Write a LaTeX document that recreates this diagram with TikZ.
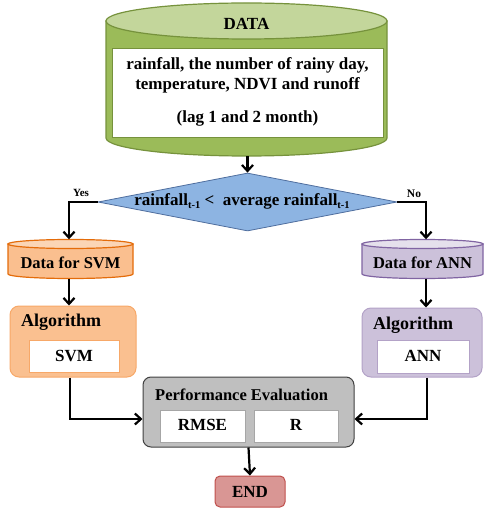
\documentclass[tikz,border=0pt]{standalone}
\usepackage{fontspec}
\setmainfont{Liberation Serif}
\usetikzlibrary{arrows.meta,shapes.geometric}

% Office-style palette
\definecolor{grnbody}{HTML}{9BBB59}
\definecolor{grntop}{HTML}{C3D69B}
\definecolor{grnline}{HTML}{76923C}
\definecolor{bluefill}{HTML}{8DB4E2}
\definecolor{blueline}{HTML}{4F6E9E}
\definecolor{orgbody}{HTML}{FABF8F}
\definecolor{orgtop}{HTML}{FBD5B5}
\definecolor{orgline}{HTML}{E46C0A}
\definecolor{orgbox}{HTML}{FAC090}
\definecolor{orgboxline}{HTML}{F7A868}
\definecolor{purbody}{HTML}{CCC1DA}
\definecolor{purtop}{HTML}{E5E0EC}
\definecolor{purline}{HTML}{8064A2}
\definecolor{purboxline}{HTML}{B3A2C7}
\definecolor{greyfill}{HTML}{BFBFBF}
\definecolor{greyline}{HTML}{404040}
\definecolor{endfill}{HTML}{D99694}
\definecolor{endline}{HTML}{C0504D}

% cylinder: left x, right x, top-centre y, bottom-centre y, y radius, body, top, line
\newcommand{\drumshape}[8]{%
  \pgfmathsetmacro\drumrx{(#2-#1)/2}%
  \filldraw[fill=#6,draw=#8,line width=1.2pt] (#1,#3) -- (#1,#4)
    arc[start angle=180,end angle=360,x radius=\drumrx pt,y radius=#5pt]
    -- (#2,#3) -- cycle;
  \filldraw[fill=#7,draw=#8,line width=1.2pt] ({(#1+#2)/2},#3)
    ellipse[x radius=\drumrx pt,y radius=#5pt];
}

\tikzset{
  lbl/.style={font=\bfseries\fontsize{17}{20}\selectfont, inner sep=0pt},
  flow/.style={line width=2.2pt, -{Straight Barb[length=6pt,width=11pt,line width=2.2pt]}},
  whitebox/.style={draw=#1, fill=white, line width=0.8pt, inner sep=0pt},
  anchorbox/.style={inner sep=0pt, minimum width=#1},
}

\begin{document}
\begin{tikzpicture}[x=1pt,y=-1pt]
\useasboundingbox (0,0) rectangle (484,510);

% ---- input data drum
\drumshape{106}{387}{21}{138}{18}{grnbody}{grntop}{grnline}
\node[anchorbox=281pt, minimum height=153pt] (data) at (246.5,79.5) {};
\node[lbl] (datat) at (246.5,24) {DATA};
\node[whitebox=grnline, minimum width=271pt, minimum height=89pt] (databox) at (247.5,92.5) {};
\node[lbl, align=center] (vars) at (247.5,75) {rainfall, the number of rainy day,\\temperature, NDVI and runoff};
\node[lbl] (lag) at (247.5,118) {(lag 1 and 2 month)};

% ---- decision
\node[diamond, draw=blueline, fill=bluefill, line width=0.8pt, aspect=5.15,
      minimum width=299pt, minimum height=58pt, inner sep=0pt] (dec) at (247.5,202) {};
\node[lbl] (dect) at (242,201) {rainfall\raisebox{-0.45ex}{\fontsize{10.5}{10}\selectfont t-1} <~ average rainfall\raisebox{-0.45ex}{\fontsize{10.5}{10}\selectfont t-1}};

% ---- SVM branch
\drumshape{8}{133}{244}{274}{4.5}{orgbody}{orgtop}{orgline}
\node[anchorbox=125pt, minimum height=39pt] (dsvm) at (70.5,259) {};
\node[lbl, font=\bfseries\fontsize{16.5}{19}\selectfont] (dsvmt) at (70.5,263) {Data for SVM};

\node[draw=orgboxline, fill=orgbox, line width=1pt, rounded corners=9pt,
      minimum width=126pt, minimum height=71pt, inner sep=0pt] (asvm) at (73,341.5) {};
\node[lbl, font=\bfseries\fontsize{18}{20}\selectfont, anchor=west] (asvmt) at (21,322) {Algorithm};
\node[whitebox=orgboxline, minimum width=90pt, minimum height=32pt] (svmbox) at (74,356) {};
\node[lbl] (svmt) at (74,356) {SVM};

% ---- ANN branch
\drumshape{362}{483}{244}{274}{4.5}{purbody}{purtop}{purline}
\node[anchorbox=121pt, minimum height=39pt] (dann) at (422.5,259) {};
\node[lbl, font=\bfseries\fontsize{16.5}{19}\selectfont] (dannt) at (422.5,263) {Data for ANN};

\node[draw=purboxline, fill=purbody, line width=1pt, rounded corners=9pt,
      minimum width=120pt, minimum height=69pt, inner sep=0pt] (aann) at (422,342.5) {};
\node[lbl, font=\bfseries\fontsize{18}{20}\selectfont, anchor=west] (aannt) at (373,325) {Algorithm};
\node[whitebox=purboxline, minimum width=92pt, minimum height=33pt] (annbox) at (423,356.5) {};
\node[lbl] (annt) at (423,356) {ANN};

% ---- evaluation
\node[draw=greyline, fill=greyfill, line width=1pt, rounded corners=8pt,
      minimum width=211pt, minimum height=70pt, inner sep=0pt] (perf) at (248.5,412) {};
\node[lbl, font=\bfseries\fontsize{16.5}{19}\selectfont, anchor=west] (perft) at (155,395) {Performance Evaluation};
\node[whitebox=gray!70, minimum width=85pt, minimum height=32pt] (rmse) at (202.5,426) {};
\node[lbl] (rmset) at (202.5,425) {RMSE};
\node[whitebox=gray!70, minimum width=84pt, minimum height=32pt] (rr) at (296,426) {};
\node[lbl] (rrt) at (296,425) {R};

\node[draw=endline, fill=endfill, line width=1pt, rounded corners=5pt,
      minimum width=70pt, minimum height=31pt, inner sep=0pt] (fin) at (250,491.5) {};
\node[lbl] (fint) at (250,491.5) {END};

% ---- connectors
\coordinate (yesc) at (69,202);
\coordinate (noc) at (426,202);
\coordinate (svmc) at (70,419);
\coordinate (annc) at (427,419);

\draw[flow] (data.south -| dec.north) -- (dec.north);
\draw[flow] (dec.west) -- (yesc) -- (yesc |- dsvm.north);
\draw[flow] (dec.east) -- (noc) -- (noc |- dann.north);
\draw[flow] (dsvm.south -| yesc) -- (asvm.north -| yesc);
\draw[flow] (dann.south -| noc) -- (aann.north -| noc);
\draw[flow] (asvm.south -| svmc) -- (svmc) -- (svmc -| perf.west);
\draw[flow] (aann.south -| annc) -- (annc) -- (annc -| perf.east);
\draw[flow] (perf.south) -- (fin.north);

\node[font=\bfseries\fontsize{11}{11}\selectfont, inner sep=0pt] (yes) at (81,193) {Yes};
\node[font=\bfseries\fontsize{11.5}{11}\selectfont, inner sep=0pt] (no) at (414,194) {No};
\end{tikzpicture}
\end{document}
